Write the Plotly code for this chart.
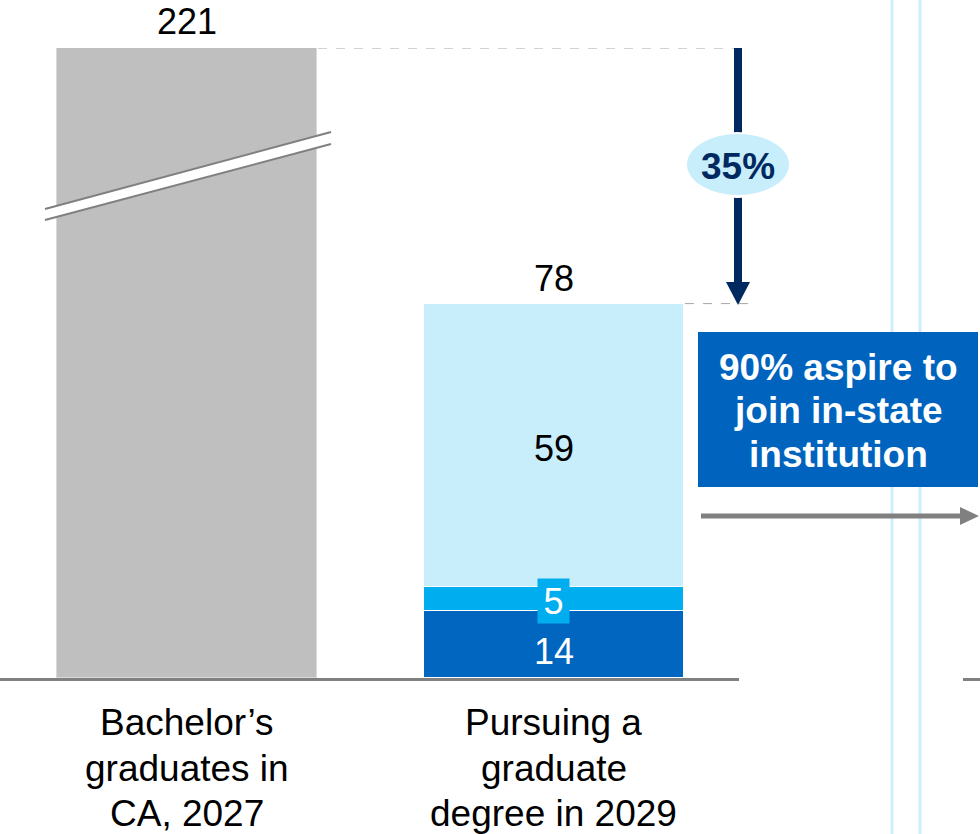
import plotly.graph_objects as go

# ---- data ----
categories = ["Bachelor’s<br>graduates in<br>CA, 2027", "Pursuing a<br>graduate<br>degree in 2029"]
bachelors_2027 = [221]
grad_in_state_core = [14]
grad_mid = [5]
grad_other = [59]
share_pursuing = "35%"
callout_lines = ["90% aspire to", "join in-state", "institution"]

# ---- layout geometry (pixels) ----
W, H = 980, 834
TOP, BASE = 48, 678           # plot area top / baseline
PLOT_H = BASE - TOP
Y_MAX = 131.25                # axis ceiling; the first bar is broken above it
FONT = "Liberation Sans, Arial, sans-serif"
NUM_SIZE = 36
LABEL_SIZE = 37

GREY = "#bfbfbf"
DARK = "#0066bf"
MID = "#00aeef"
LIGHT = "#c8eefc"
NAVY = "#002960"


def xp(px):
    return px / W


def yp(py):
    return (BASE - py) / PLOT_H


def note(**kw):
    kw.setdefault("showarrow", False)
    kw.setdefault("xanchor", "center")
    kw.setdefault("yanchor", "middle")
    return kw


total_grad = grad_in_state_core[0] + grad_mid[0] + grad_other[0]

fig = go.Figure()
fig.add_bar(x=[categories[0]], y=bachelors_2027, marker=dict(color=GREY, line=dict(color="#d9d9d9", width=1)),
            width=0.708, hoverinfo="skip")
fig.add_bar(x=[categories[1]], y=grad_in_state_core, marker=dict(color=DARK, line=dict(color="white", width=1)),
            width=0.708, hoverinfo="skip")
fig.add_bar(x=[categories[1]], y=grad_mid, marker=dict(color=MID, line=dict(color="white", width=1)),
            width=0.708, hoverinfo="skip")
fig.add_bar(x=[categories[1]], y=grad_other, marker=dict(color=LIGHT, line=dict(color="white", width=1)),
            width=0.708, hoverinfo="skip")

shapes = []
annotations = []

# light blue vertical separators
for x in (892, 920):
    shapes.append(dict(type="line", xref="paper", yref="paper", x0=xp(x), x1=xp(x),
                       y0=yp(H), y1=yp(0), line=dict(color="#cdeefb", width=3), layer="below"))

# axis break on the first bar
shapes.append(dict(type="path", xref="paper", yref="paper",
                   path=f"M {xp(45)},{yp(209)} L {xp(331)},{yp(132)} L {xp(331)},{yp(144)} L {xp(45)},{yp(220)} Z",
                   fillcolor="white", line=dict(width=0), layer="above"))
for (a, b) in ((209, 132), (220, 144)):
    shapes.append(dict(type="line", xref="paper", yref="paper", x0=xp(45), y0=yp(a), x1=xp(331), y1=yp(b),
                       line=dict(color="#808080", width=2)))

# dashed guides
shapes.append(dict(type="line", xref="paper", yref="y", x0=xp(318), x1=xp(748), y0=Y_MAX, y1=Y_MAX,
                   line=dict(color="#a6a6a6", width=1, dash="dash")))
shapes.append(dict(type="line", xref="paper", yref="y", x0=xp(685), x1=xp(748), y0=total_grad, y1=total_grad,
                   line=dict(color="#a6a6a6", width=1, dash="dash")))

# baseline
shapes.append(dict(type="line", xref="paper", yref="paper", x0=0, x1=xp(739), y0=yp(679.5), y1=yp(679.5),
                   line=dict(color="#808080", width=3)))
shapes.append(dict(type="line", xref="paper", yref="paper", x0=xp(963), x1=1, y0=yp(679.5), y1=yp(679.5),
                   line=dict(color="#808080", width=3)))

# navy drop arrow with percentage bubble
ax = 738
shapes.append(dict(type="line", xref="paper", yref="y", x0=xp(ax), x1=xp(ax), y0=Y_MAX, y1=total_grad + 20 / 4.8,
                   line=dict(color=NAVY, width=8)))
shapes.append(dict(type="path", xref="paper", yref="paper",
                   path=f"M {xp(ax - 12)},{yp(282)} L {xp(ax + 12)},{yp(282)} L {xp(ax)},{yp(305)} Z",
                   fillcolor=NAVY, line=dict(width=0)))
shapes.append(dict(type="circle", xref="paper", yref="paper", x0=xp(685), x1=xp(790), y0=yp(198), y1=yp(132),
                   fillcolor="white", line=dict(width=0)))
shapes.append(dict(type="circle", xref="paper", yref="paper", x0=xp(687), x1=xp(789), y0=yp(195), y1=yp(134),
                   fillcolor=LIGHT, line=dict(width=0)))
annotations.append(note(xref="paper", yref="paper", x=xp(738), y=yp(166), text=f"<b>{share_pursuing}</b>",
                        font=dict(family=FONT, size=LABEL_SIZE, color=NAVY)))

# callout box
shapes.append(dict(type="rect", xref="paper", yref="paper", x0=xp(698), x1=xp(978), y0=yp(487), y1=yp(332),
                   fillcolor="#0064be", line=dict(width=0)))
for i, line in enumerate(callout_lines):
    annotations.append(note(xref="paper", yref="paper", x=xp(838), y=yp(367 + 44 * i), text=f"<b>{line}</b>",
                            font=dict(family=FONT, size=LABEL_SIZE, color="white")))

# grey continuation arrow
shapes.append(dict(type="line", xref="paper", yref="paper", x0=xp(701), x1=xp(962), y0=yp(516), y1=yp(516),
                   line=dict(color="#808080", width=5)))
shapes.append(dict(type="path", xref="paper", yref="paper",
                   path=f"M {xp(960)},{yp(507)} L {xp(979)},{yp(516)} L {xp(960)},{yp(525)} Z",
                   fillcolor="#808080", line=dict(width=0)))

# value labels
annotations.append(note(xref="x", yref="paper", x=0, y=yp(22), text=str(bachelors_2027[0]),
                        font=dict(family=FONT, size=NUM_SIZE, color="black")))
annotations.append(note(xref="x", yref="y", x=1, y=total_grad, yshift=25, text=str(total_grad),
                        font=dict(family=FONT, size=NUM_SIZE, color="black")))
annotations.append(note(xref="x", yref="y", x=1, y=grad_in_state_core[0] + grad_mid[0] + grad_other[0] / 2,
                        yshift=-3, text=str(grad_other[0]), font=dict(family=FONT, size=NUM_SIZE, color="black")))
annotations.append(note(xref="x", yref="y", x=1, y=grad_in_state_core[0] + grad_mid[0] / 2, yshift=-2,
                        text=str(grad_mid[0]), bgcolor=MID, borderpad=0, width=31, height=44, align="center",
                        valign="middle", font=dict(family=FONT, size=NUM_SIZE, color="white")))
annotations.append(note(xref="x", yref="y", x=1, y=grad_in_state_core[0] / 2, yshift=-7,
                        text=str(grad_in_state_core[0]), font=dict(family=FONT, size=NUM_SIZE, color="white")))

# category labels, one line at a time
for ci, cat in enumerate(categories):
    for li, line in enumerate(cat.split("<br>")):
        annotations.append(note(xref="x", yref="paper", x=ci, y=yp(722 + 45.5 * li), text=line,
                                height=42, valign="middle",
                                font=dict(family=FONT, size=LABEL_SIZE, color="black")))

fig.update_layout(
    width=W, height=H,
    margin=dict(l=0, r=0, t=TOP, b=H - BASE, pad=0),
    paper_bgcolor="white", plot_bgcolor="white",
    barmode="stack", bargap=0, showlegend=False,
    xaxis=dict(type="category", range=[-0.5095, 2.161], showticklabels=False, showgrid=False,
               zeroline=False, showline=False, fixedrange=True),
    yaxis=dict(range=[0, Y_MAX], visible=False, fixedrange=True),
    shapes=shapes, annotations=annotations,
)

fig.write_html("out.html", config={"displayModeBar": False})
